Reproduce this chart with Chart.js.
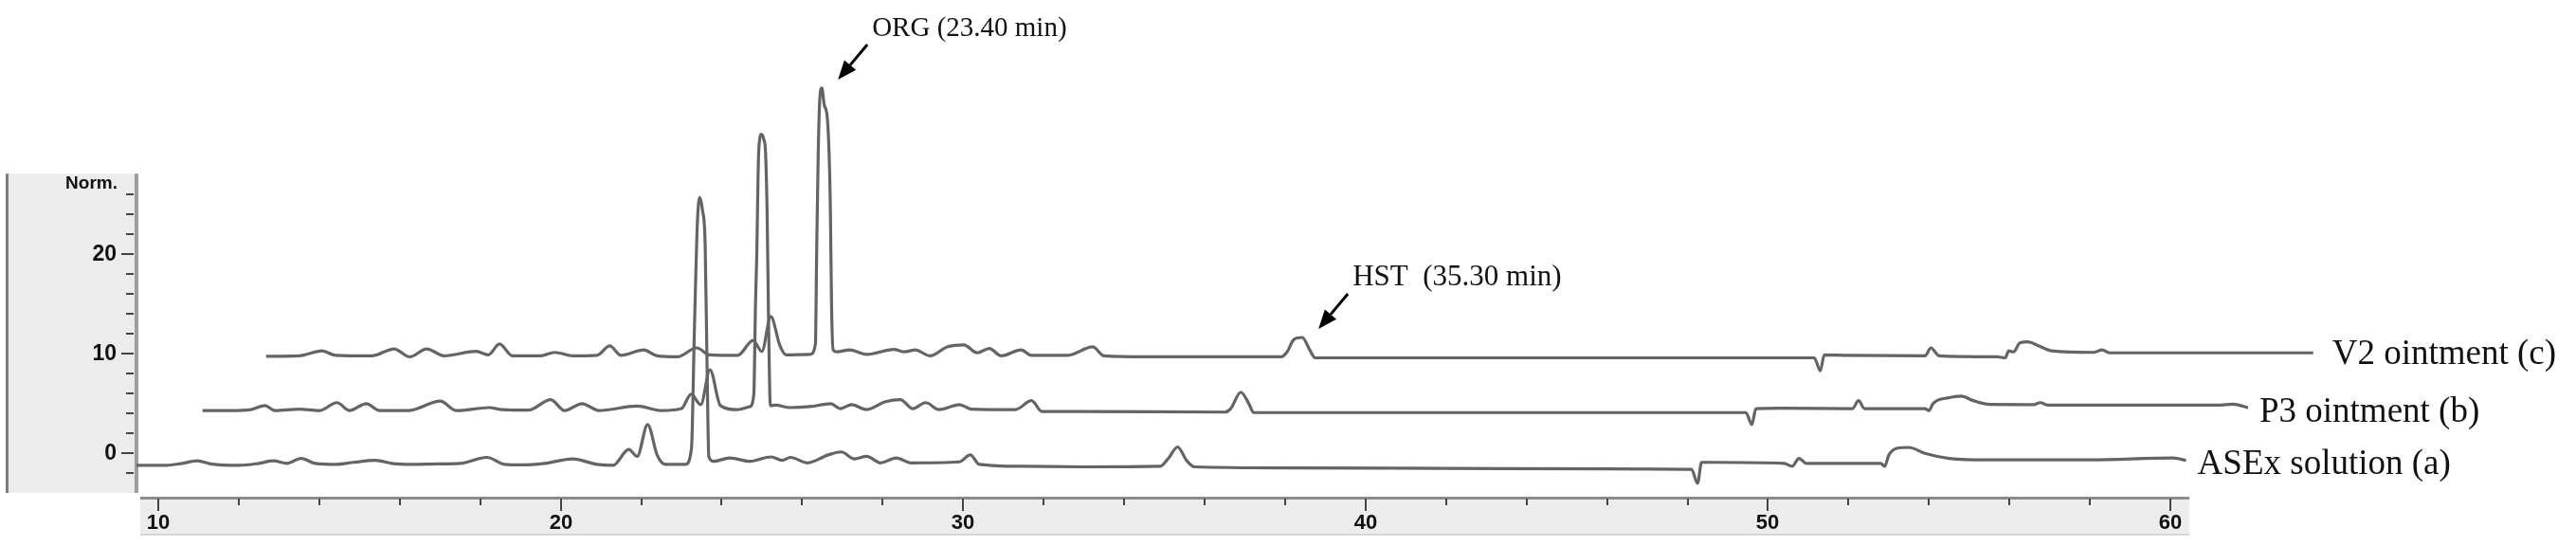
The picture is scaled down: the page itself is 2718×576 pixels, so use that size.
<!DOCTYPE html>
<html>
  <script src="https://cdn.jsdelivr.net/npm/chart.js"></script>
  <body style="margin:0; background:#fff">
    <canvas id="myChart" width="2718" height="576"></canvas>

    <script>
      // retention time (min, as placed on the time axis) and signal (Norm.) for each trace
      const traceA = [[9.46,-1.2],[10.2,-1.2],[10.6,-1.0],[10.97,-0.75],[11.3,-1.05],[12.0,-1.2],[12.5,-1.0],[12.86,-0.75],[13.2,-1.0],[13.55,-0.5],[13.9,-1.0],[14.45,-1.1],[14.85,-0.9],[15.4,-0.7],[15.8,-1.0],[16.3,-1.1],[16.95,-1.05],[17.5,-1.0],[18.17,-0.4],[18.6,-1.1],[19.0,-1.15],[19.6,-1.0],[20.3,-0.55],[20.9,-1.1],[21.3,-1.2],[21.69,0.4],[21.9,-0.3],[22.16,2.9],[22.4,-0.2],[22.6,-1.1],[23.1,-1.1],[23.25,0.5],[23.32,12],[23.4,23.5],[23.46,25.7],[23.52,24.5],[23.59,21],[23.64,8],[23.68,-0.3],[23.8,-0.8],[24.2,-0.45],[24.7,-0.8],[25.23,-0.35],[25.5,-0.7],[25.71,-0.4],[26.13,-0.95],[26.65,-0.15],[26.97,0.15],[27.3,-0.55],[27.6,-0.3],[27.95,-0.95],[28.34,-0.45],[28.7,-0.95],[29.9,-0.85],[30.18,-0.15],[30.4,-1.1],[31.5,-1.3],[33,-1.35],[34.9,-1.3],[35.1,-0.5],[35.33,0.65],[35.55,-0.7],[35.75,-1.35],[38,-1.45],[42,-1.5],[46,-1.55],[48.1,-1.6],[48.25,-3.0],[48.35,-0.9],[48.6,-0.9],[50.4,-1.0],[50.6,-1.3],[50.77,-0.5],[50.95,-1.0],[52.8,-1.0],[52.9,-1.3],[53.0,-0.2],[53.2,0.5],[53.5,0.6],[53.9,0.0],[54.5,-0.5],[55.5,-0.65],[58,-0.65],[60.07,-0.45],[60.39,-0.7]];

      const traceB = [[11.1,4.3],[11.8,4.3],[12.3,4.4],[12.65,4.8],[12.9,4.3],[13.5,4.45],[14.0,4.3],[14.44,5.1],[14.75,4.3],[15.17,5.0],[15.5,4.3],[16.2,4.3],[17.01,5.25],[17.4,4.3],[18.22,4.6],[18.55,4.4],[19.2,4.35],[19.75,5.4],[20.1,4.3],[20.53,5.0],[20.95,4.3],[21.9,4.75],[22.5,4.3],[23.0,4.5],[23.24,5.95],[23.48,4.9],[23.71,8.4],[23.97,4.8],[24.39,4.4],[24.7,4.7],[24.8,6],[24.84,15],[24.87,19.5],[24.92,30.3],[24.99,32.06],[25.05,31.5],[25.09,30.3],[25.13,24],[25.17,12],[25.21,4.8],[25.34,4.85],[25.7,4.6],[26.2,4.7],[26.71,5.0],[26.95,4.5],[27.23,4.9],[27.6,4.4],[28.07,5.2],[28.44,5.4],[28.75,4.5],[29.07,5.1],[29.4,4.4],[29.91,4.9],[30.2,4.45],[31.3,4.4],[31.7,5.3],[31.96,4.2],[33,4.2],[36.5,4.15],[36.65,4.5],[36.9,6.15],[37.1,5.0],[37.22,4.1],[40,4.1],[45,4.1],[49.45,4.1],[49.6,2.9],[49.7,4.5],[50.3,4.55],[52.1,4.5],[52.25,5.3],[52.4,4.5],[53.9,4.5],[54.0,4.3],[54.1,5.0],[54.5,5.6],[54.8,5.75],[55.1,5.3],[55.52,4.92],[56.6,4.9],[56.77,5.1],[56.95,4.85],[61.2,4.85],[61.55,4.95],[61.93,4.6]];

      const traceC = [[12.68,9.75],[13.5,9.8],[14.07,10.3],[14.4,9.85],[15.3,9.8],[15.86,10.5],[16.25,9.7],[16.67,10.5],[17.1,9.8],[17.9,10.25],[18.2,9.9],[18.48,11.0],[18.8,9.8],[19.5,9.8],[19.85,10.15],[20.3,9.8],[20.9,9.85],[21.22,10.8],[21.5,9.85],[22.06,10.4],[22.4,9.8],[22.9,9.7],[23.38,10.6],[23.7,9.9],[24.4,9.85],[24.78,11.35],[25.0,10.25],[25.22,13.75],[25.45,10.8],[25.6,9.9],[26.2,9.95],[26.33,11],[26.36,20],[26.40,30.3],[26.44,35.7],[26.49,36.7],[26.55,35],[26.63,33.5],[26.70,25],[26.73,15],[26.77,10.4],[26.86,10.2],[27.18,10.4],[27.6,9.95],[28.28,10.45],[28.55,10.2],[28.81,10.4],[29.18,9.8],[29.6,10.7],[30.02,10.9],[30.35,10.1],[30.65,10.55],[30.95,9.8],[31.44,10.4],[31.7,9.85],[32.6,9.85],[33.22,10.7],[33.5,9.8],[34.5,9.7],[36,9.7],[37.9,9.7],[38.05,10.2],[38.22,11.45],[38.43,11.65],[38.6,10.5],[38.75,9.6],[40,9.6],[45,9.6],[49,9.6],[51.15,9.6],[51.3,8.3],[51.4,9.9],[52,9.85],[53.9,9.8],[54.05,10.6],[54.25,9.8],[55.7,9.7],[55.9,9.6],[55.98,10.3],[56.1,10.2],[56.26,11.1],[56.45,11.2],[56.73,10.8],[57.05,10.3],[58.1,10.15],[58.3,10.4],[58.49,10.1],[63.55,10.1]];

      const traceNames = ["ASEx solution (a)", "P3 ointment (b)", "V2 ointment (c)"];

      const xTicks = [10,12,14,16,18,20,22,24,26,28,30,32,34,36,38,40,42,44,46,48,50,52,54,56,58,60];
      const yTicks = [-2,0,2,4,6,8,10,12,14,16,18,20,22,24,26];

      // peak labels: text, and the peak (time, signal) the arrow points at
      const peakNotes = [
        { text: "ORG (23.40 min)", t: 26.49, v: 36.7, size: 29 },
        { text: "HST  (35.30 min)", t: 38.43, v: 11.65, size: 31 }
      ];

      const ctx = document.getElementById('myChart');

      function arrow(c, x1, y1, x2, y2) {
        var ang = Math.atan2(y2 - y1, x2 - x1);
        var len = 20, half = 8;
        var bx = x2 - len * Math.cos(ang), by = y2 - len * Math.sin(ang);
        c.strokeStyle = '#000';
        c.lineWidth = 3;
        c.beginPath();
        c.moveTo(x1, y1);
        c.lineTo(bx, by);
        c.stroke();
        c.fillStyle = '#000';
        c.beginPath();
        c.moveTo(x2, y2);
        c.lineTo(bx + half * Math.sin(ang), by - half * Math.cos(ang));
        c.lineTo(bx - half * Math.sin(ang), by + half * Math.cos(ang));
        c.closePath();
        c.fill();
      }

      const chromPlugin = {
        id: 'chrom',
        beforeDatasetsDraw(chart) {
          const c = chart.ctx;
          const xs = chart.scales.x, ys = chart.scales.y;
          const yTop = ys.getPixelForValue(28.1), yBot = ys.getPixelForValue(-3.97);
          const axX = chart.chartArea.left;
          c.save();
          // y axis panel
          c.fillStyle = '#ececec';
          c.fillRect(8, yTop, axX - 8, yBot - yTop);
          c.fillStyle = '#7c7c7c';
          c.fillRect(6, yTop, 3, yBot - yTop);
          c.fillStyle = '#9c9c9c';
          c.fillRect(axX - 2, yTop, 4, yBot - yTop);
          c.strokeStyle = '#444';
          c.lineWidth = 2;
          c.fillStyle = '#111';
          c.font = 'bold 23px "Liberation Sans", Arial, sans-serif';
          c.textAlign = 'right';
          c.textBaseline = 'middle';
          yTicks.forEach(function (v) {
            const y = Math.round(ys.getPixelForValue(v));
            const major = v % 10 === 0;
            c.beginPath();
            c.moveTo(major ? axX - 16 : axX - 11, y);
            c.lineTo(axX - 3, y);
            c.stroke();
            if (major) c.fillText(String(v), axX - 21, y + 1);
          });
          c.font = 'bold 19px "Liberation Sans", Arial, sans-serif';
          c.textBaseline = 'alphabetic';
          c.fillText('Norm.', axX - 20, yTop + 16);

          // x axis strip
          const x0 = axX + 4, x1 = xs.getPixelForValue(60) + 20;
          const sTop = 525, sBot = 565;
          c.fillStyle = '#ececec';
          c.fillRect(x0, sTop, x1 - x0, sBot - sTop);
          c.fillStyle = '#d6d6d6';
          c.fillRect(x0, sBot - 2, x1 - x0, 2);
          c.fillStyle = '#8c8c8c';
          c.fillRect(x0, sTop - 1, x1 - x0, 3);
          c.fillStyle = '#111';
          c.font = 'bold 22px "Liberation Sans", Arial, sans-serif';
          c.textAlign = 'center';
          c.textBaseline = 'middle';
          xTicks.forEach(function (t) {
            const x = Math.round(xs.getPixelForValue(t));
            const major = t % 10 === 0;
            c.beginPath();
            c.moveTo(x, sTop + 1);
            c.lineTo(x, major ? sTop + 14 : sTop + 8);
            c.stroke();
            if (major) c.fillText(String(t), x, 552);
          });
          c.restore();
        },
        afterDatasetsDraw(chart) {
          const c = chart.ctx;
          const xs = chart.scales.x, ys = chart.scales.y;
          c.save();
          c.textAlign = 'left';
          c.textBaseline = 'alphabetic';
          peakNotes.forEach(function (n) {
            const px = xs.getPixelForValue(n.t), py = ys.getPixelForValue(n.v);
            arrow(c, px + 48, py - 46, px + 17, py - 9);
            c.fillStyle = '#111';
            c.font = n.size + 'px "Liberation Serif", "Times New Roman", serif';
            c.fillText(n.text, px + 53, py - 55);
          });
          // trace names at the end of each trace
          c.font = '37px "Liberation Serif", "Times New Roman", serif';
          c.textBaseline = 'middle';
          const gap = [12, 12, 20];
          chart.data.datasets.forEach(function (ds, i) {
            const last = ds.data[ds.data.length - 1];
            const px = xs.getPixelForValue(last.x), py = ys.getPixelForValue(last.y);
            c.fillText(traceNames[i], px + gap[i], py + (i === 2 ? 2 : 5));
          });
          c.restore();
        }
      };

      function toPoints(trace) {
        return trace.map(function (p) { return { x: p[0], y: p[1] }; });
      }

      new Chart(ctx, {
        type: "line",
        data: {
          datasets: [traceA, traceB, traceC].map(function (tr, i) {
            return {
              label: traceNames[i],
              data: toPoints(tr),
              borderColor: "#646464",
              borderWidth: 3.2,
              pointRadius: 0,
              cubicInterpolationMode: "monotone",
              fill: false
            };
          })
        },
        options: {
          responsive: false,
          animation: false,
          layout: { padding: { left: 144, right: 258, top: 0, bottom: 56 } },
          plugins: { legend: { display: false }, tooltip: { enabled: false } },
          scales: {
            x: { type: "linear", min: 9.4583, max: 64.003, display: false },
            y: { min: -3.971, max: 45.552, display: false }
          }
        },
        plugins: [chromPlugin]
      });
    </script>
  </body>
</html>
